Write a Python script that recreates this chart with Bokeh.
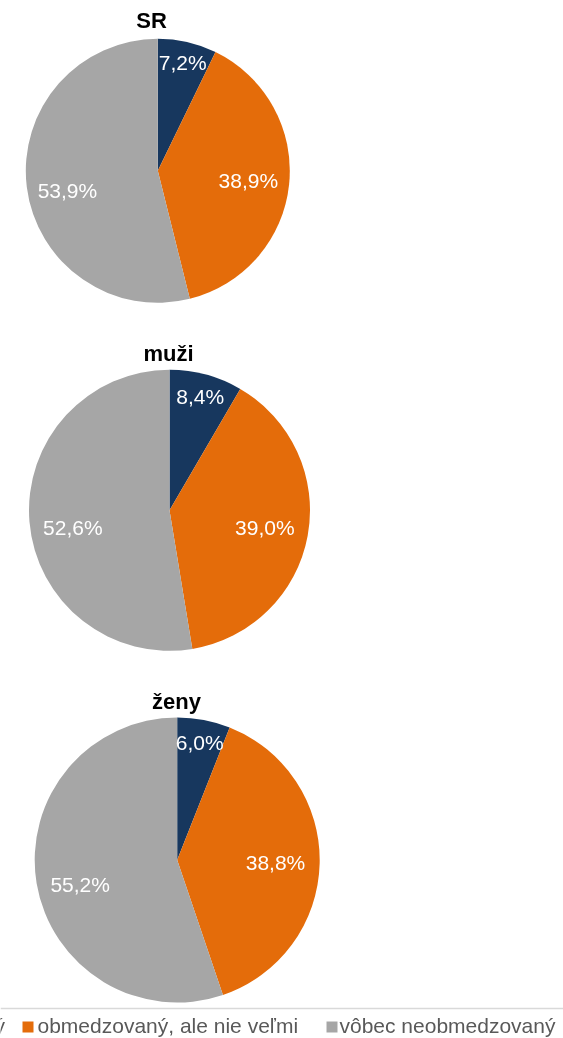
import math
from bokeh.plotting import figure
from bokeh.models import Range1d
from bokeh.core.properties import value
from bokeh.embed import file_html
from bokeh.resources import INLINE

# ---- data ----
categories = ["silne obmedzovaný", "obmedzovaný, ale nie veľmi", "vôbec neobmedzovaný"]
groups = ["SR", "muži", "ženy"]
sr_values = [7.2, 38.9, 53.9]
muzi_values = [8.4, 39.0, 52.6]
zeny_values = [6.0, 38.8, 55.2]
colors = ["#17375E", "#E46C0A", "#A6A6A6"]

# ---- layout (window pixel coordinates, y downward) ----
W, H = 563, 1038
pies = [  # (cx, cy, r, title_x, title_center_y)
    (157.3, 170.3, 132.0, 151.0, 20.0),
    (169.0, 509.8, 140.5, 168.0, 353.0),
    (176.7, 859.5, 142.5, 176.0, 701.0),
]
label_frac = [0.84, 0.69, 0.69]
label_shift_down = [0.0, 0.0, 9.0]
FONT = "Liberation Sans"

p = figure(width=W, height=H, x_range=Range1d(0, W), y_range=Range1d(0, H),
           output_backend="svg", toolbar_location=None,
           x_axis_type=None, y_axis_type=None,
           min_border=0, min_border_left=0, min_border_right=0,
           min_border_top=0, min_border_bottom=0)
p.grid.visible = False
p.outline_line_color = None
p.background_fill_color = "white"
p.border_fill_color = "white"
p.styles = {"position": "fixed", "left": "0px", "top": "0px"}

def Y(y):
    return H - y

all_values = [sr_values, muzi_values, zeny_values]
for (cx, cy, r, tx, ty), vals, title in zip(pies, all_values, groups):
    total = sum(vals)
    cum = 0.0
    lx, ly, lt = [], [], []
    for i, v in enumerate(vals):
        a0 = cum / total
        a1 = (cum + v) / total
        cum += v
        start = math.pi / 2 - a1 * 2 * math.pi
        end = math.pi / 2 - a0 * 2 * math.pi
        p.wedge(x=cx, y=Y(cy), radius=r, start_angle=start, end_angle=end,
                direction="anticlock", fill_color=colors[i], line_color=None)
        mid = (start + end) / 2
        f = label_frac[i]
        lx.append(cx + f * r * math.cos(mid))
        ly.append(Y(cy) + f * r * math.sin(mid) - label_shift_down[i])
        lt.append(f"{v:.1f}".replace(".", ",") + "%")
    p.text(x=lx, y=ly, text=lt, text_align="center", text_baseline="middle",
           text_font=value(FONT), text_font_size="21px", text_color="white")
    p.text(x=[tx], y=[Y(ty)], text=[title], text_align="center",
           text_baseline="middle", text_font=value(FONT),
           text_font_size="22px", text_font_style="bold", text_color="black")

# ---- legend ----
p.segment(x0=[0], y0=[Y(1008)], x1=[W], y1=[Y(1008)], line_color="#D9D9D9", line_width=1.5)
leg_square_x = [-200.0, 27.5, 331.5]
leg_text_x = [4.5, 37.0, 339.0]
leg_align = ["right", "left", "left"]
for i, cat in enumerate(categories):
    p.rect(x=[leg_square_x[i]], y=[Y(1026.5)], width=11, height=11,
           fill_color=colors[i], line_color=None)
    p.text(x=[leg_text_x[i]], y=[Y(1025.0)], text=[cat], text_align=leg_align[i],
           text_baseline="middle", text_font=value(FONT),
           text_font_size="21px", text_color="#595959")

open("out.html", "w").write(file_html(p, INLINE))
